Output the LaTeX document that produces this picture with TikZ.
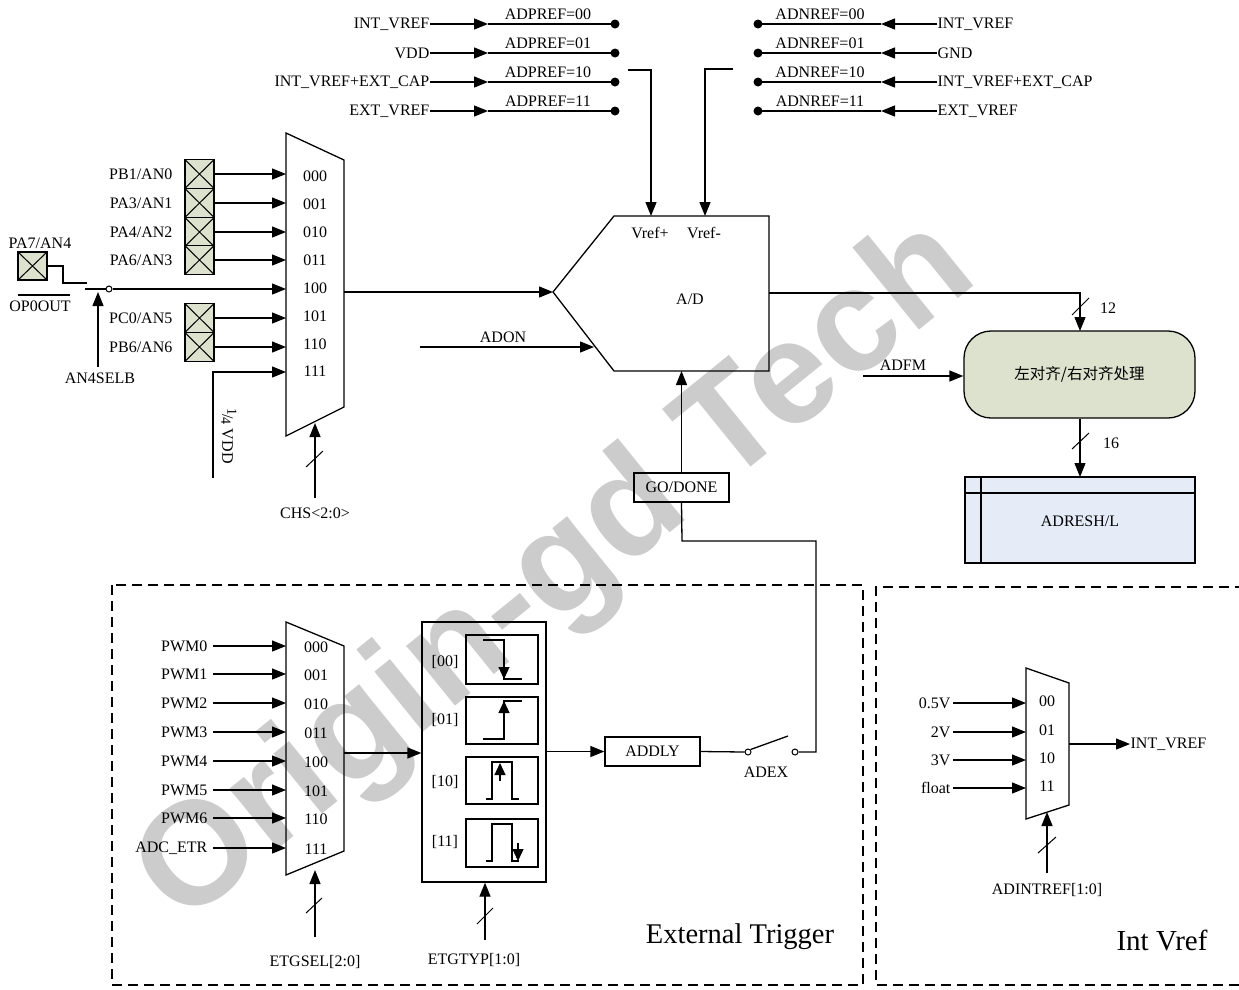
\documentclass[tikz,border=0pt]{standalone}
\usepackage{fontspec}
\setmainfont{Liberation Serif}
\newfontfamily\cjk{Noto Sans CJK SC}
\newfontfamily\wmfont{Liberation Sans}
\usetikzlibrary{arrows.meta,calc}
\definecolor{padc}{RGB}{221,226,206}
\definecolor{regc}{RGB}{229,236,247}
\definecolor{wmc}{RGB}{204,204,204}
\begin{document}
\begin{tikzpicture}[x=1pt,y=-1pt,line width=1.3pt,
  font=\fontsize{16}{19}\selectfont,
  lbl/.style={inner sep=0pt},
  arr/.style={-{Triangle[length=14pt,width=11pt]}},
  pad/.style={draw,fill=padc,minimum width=29pt,minimum height=28.6pt,inner sep=0pt,
    path picture={\draw[line width=1pt] (path picture bounding box.south west) -- (path picture bounding box.north east)
      (path picture bounding box.north west) -- (path picture bounding box.south east);}},
  dotc/.style={circle,fill,inner sep=0pt,minimum size=9pt},
  ocirc/.style={circle,draw,fill=white,inner sep=0pt,minimum size=6pt,line width=1pt},
  bus/.style={line width=1pt},
  dbox/.style={dash pattern=on 10pt off 6pt,line width=1.1pt}]
\useasboundingbox (0,0) rectangle (1239,989);
\fill[white] (0,0) rectangle (1239,989);
% watermark
\node[lbl,rotate=39,text=wmc,font=\wmfont\bfseries\fontsize{146}{146}\selectfont] (wm) at (558,575) {Origin-gd Tech};

% ---------- ADPREF (top left) ----------
\foreach \i/\y/\t/\c in {1/24/INT\_VREF/00,2/53/VDD/01,3/82/INT\_VREF+EXT\_CAP/10,4/111/EXT\_VREF/11}{
  \node[lbl,anchor=east] (pl\i) at (430,\y) {\t};
  \coordinate (pm\i) at (488,\y);
  \node[dotc] (pd\i) at (615,\y) {};
  \draw[arr] (pl\i.east) -- (pm\i);
  \draw (pm\i) -- (pd\i.center);
  \node[lbl] (pt\i) at (548,\y-10) {ADPREF=\c};
}
% ---------- ADNREF (top right) ----------
\foreach \i/\y/\t/\c in {1/24/INT\_VREF/00,2/53/GND/01,3/82/INT\_VREF+EXT\_CAP/10,4/111/EXT\_VREF/11}{
  \node[lbl,anchor=west] (nl\i) at (937,\y) {\t};
  \coordinate (nm\i) at (881,\y);
  \node[dotc] (nd\i) at (758,\y) {};
  \draw[arr] (nl\i.west) -- (nm\i);
  \draw (nm\i) -- (nd\i.center);
  \node[lbl] (nt\i) at (820,\y-10) {ADNREF=\c};
}

% ---------- A/D block ----------
\coordinate (adTL) at (614,216);
\coordinate (adTR) at (769,216);
\coordinate (adBR) at (769,371);
\coordinate (adBL) at (614,371);
\coordinate (adL) at (553,292);
\draw (adTL) -- (adTR) -- (adBR) -- (adBL) -- (adL) -- cycle;
\node[lbl] (vrp) at (650,233) {Vref+};
\node[lbl] (vrn) at (704,233) {Vref-};
\node[lbl] (ad) at (690,299) {A/D};
\coordinate (vpS) at (628,70);
\coordinate (vpT) at (651,216);
\draw[arr] (vpS) -- (651,70) -- (vpT);
\coordinate (vnS) at (733,69);
\coordinate (vnT) at (705,216);
\draw[arr] (vnS) -- (705,69) -- (vnT);

% ADON
\coordinate (adonS) at (420,347);
\coordinate (adonT) at (594,347);
\draw[arr] (adonS) -- (adonT);
\node[lbl] (adon) at (503,337) {ADON};

% ---------- main mux ----------
\draw (286,133) -- (344,160) -- (344,407) -- (286,436) -- cycle;
\coordinate (mmOut) at (344,292);
\draw[arr] (mmOut) -- (adL);
\foreach \y/\c [count=\k] in {176/000,204/001,232/010,260/011,288/100,316/101,344/110,371/111}{
  \node[lbl] (mc\k) at (315,\y) {\c};
}
\foreach \n/\y/\t in {0/174/PB1\slash AN0,1/203/PA3\slash AN1,2/232/PA4\slash AN2,3/260/PA6\slash AN3,5/318/PC0\slash AN5,6/347/PB6\slash AN6}{
  \node[pad] (pad\n) at (199.5,\y) {};
  \node[lbl,anchor=east] (pn\n) at (173,\y) {\t};
  \coordinate (mi\n) at (286,\y);
  \draw[arr] (pad\n.east) -- (mi\n);
}
% AN4 switch
\node[pad,minimum height=28pt] (pad4) at (32.5,266) {};
\node[lbl] (pn4) at (40,243) {PA7/AN4};
\node[lbl] (op0) at (40,306) {OP0OUT};
\coordinate (opA) at (18,295);
\coordinate (opB) at (70,295);
\draw (opA) -- (opB);
\draw (pad4.east) -- (63,266) -- (63,283) -- (87,283);
\node[ocirc] (swc) at (109,289) {};
\draw (85,289) -- (swc.west);
\coordinate (mi4) at (286,289);
\draw[arr] (swc.east) -- (mi4);
\node[lbl] (an4s) at (100,378) {AN4SELB};
\coordinate (an4b) at (98,367);
\coordinate (an4t) at (98,292);
\draw[arr] (an4b) -- (an4t);
% 1/4 VDD
\coordinate (qv) at (213,478);
\coordinate (mi7) at (286,372);
\draw[arr] (qv) -- (213,372) -- (mi7);
\node[lbl,rotate=-90] (qvl) at (229,436) {\raisebox{5pt}{\fontsize{14}{14}\selectfont 1}\kern-1pt/\kern-1pt\raisebox{-1pt}{\fontsize{14}{14}\selectfont 4} VDD};
% CHS
\coordinate (chsS) at (315,498);
\coordinate (chsT) at (315,423);
\draw[arr] (chsS) -- (chsT);
\draw[bus] (306,467) -- (323,451);
\node[lbl] (chs) at (315,513) {CHS<2:0>};

% ---------- alignment & result ----------
\node[draw,fill=padc,rounded corners=27pt,minimum width=231pt,minimum height=87pt,inner sep=0pt] (align) at (1079.5,374.5) {\cjk\fontsize{15.5}{18}\selectfont 左对齐/右对齐处理};
\coordinate (adOut) at (769,293);
\coordinate (alTop) at (1080,331);
\draw[arr] (adOut) -- (1080,293) -- (alTop);
\draw[bus] (1072,315) -- (1089,298);
\node[lbl] (n12) at (1108,308) {12};
\coordinate (adfmS) at (863,376);
\draw[arr] (adfmS) -- (align.west |- adfmS);
\node[lbl] (adfm) at (903,365) {ADFM};

\fill[regc] (965,477) rectangle (1195,563);
\draw (965,477) rectangle (1195,563);
\draw (965,493) -- (1195,493);
\draw (981,477) -- (981,563);
\coordinate (regTop) at (1080,477);
\node[lbl] (reg) at (1080,521) {ADRESH/L};
\draw[arr] (align.south -| regTop) -- (regTop);
\draw[bus] (1072,449) -- (1089,433);
\node[lbl] (n16) at (1111,443) {16};

% GO/DONE
\node[draw,minimum width=95pt,minimum height=29pt,inner sep=0pt] (go) at (681.5,487.5) {GO/DONE};
\draw[arr] (go.north) -- (go.north |- adBL);

% ---------- External trigger ----------
\draw[dbox] (112,585) rectangle (863,985);
\draw (286,622) -- (344,646) -- (344,851) -- (286,875) -- cycle;
\foreach \y/\t/\c [count=\k] in {646/PWM0/000,674/PWM1/001,703/PWM2/010,732/PWM3/011,761/PWM4/100,790/PWM5/101,818/PWM6/110,848/ADC\_ETR/111}{
  \node[lbl,anchor=east] (pw\k) at (208,\y) {\t};
  \coordinate (ei\k) at (286,\y);
  \draw[arr] (213,\y) -- (ei\k);
  \node[lbl] (ec\k) at (316,\y+1) {\c};
}
\coordinate (etOut) at (344,753);
\node[draw,minimum width=124pt,minimum height=260pt,inner sep=0pt] (edge) at (484,752) {};
\draw[arr] (etOut) -- (edge.west |- etOut);
\coordinate (egS) at (315,937);
\coordinate (egT) at (315,870);
\draw[arr] (egS) -- (egT);
\draw[bus] (306,913) -- (322,898);
\node[lbl] (etgsel) at (315,962) {ETGSEL[2:0]};
\coordinate (etS) at (485,940);
\draw[arr] (etS) -- (edge.south -| etS);
\draw[bus] (477,924) -- (493,908);
\node[lbl] (etgtyp) at (474,960) {ETGTYP[1:0]};
% edge sub-boxes
\draw (466,635) rectangle (538,684);
\draw (466,697) rectangle (538,744);
\draw (466,757) rectangle (538,804);
\draw (466,819) rectangle (538,867);
\node[lbl] (e00) at (445,662) {[00]};
\node[lbl] (e01) at (445,720) {[01]};
\node[lbl] (e10) at (445,782) {[10]};
\node[lbl] (e11) at (445,842) {[11]};
\begin{scope}[line width=1.1pt]
\draw (483,640) -- (504,640) -- (504,679) -- (522,679);
\draw[-{Triangle[length=12pt,width=11pt]}] (504,660) -- (504,679);
\draw (483,739) -- (504,739) -- (504,701) -- (522,701);
\draw[-{Triangle[length=12pt,width=11pt]}] (504,720) -- (504,701);
\draw (486,799) -- (492,799) -- (492,762) -- (512,762) -- (512,799) -- (519,799);
\draw[-{Triangle[length=12pt,width=11pt]}] (500,781) -- (500,763);
\draw (486,861) -- (492,861) -- (492,824) -- (512,824) -- (512,861) -- (519,861);
\draw[-{Triangle[length=12pt,width=11pt]}] (518,843) -- (518,861);
\end{scope}
\node[draw,minimum width=95pt,minimum height=29pt,inner sep=0pt] (addly) at (652.5,751.5) {ADDLY};
\draw[arr] (edge.east |- addly) -- (addly.west);
\node[ocirc] (sw1) at (748,752) {};
\node[ocirc] (sw2) at (795,752) {};
\draw (addly.east) -- (sw1.west);
\draw (sw1.north east) -- (788,736);
\draw (sw2.east) -- (816,752) -- (816,541) -- (682,541) -- (go.south);
\node[lbl] (adex) at (766,772) {ADEX};
\node[lbl,font=\fontsize{28.5}{32}\selectfont] (ext) at (740,937) {External Trigger};

% ---------- Int Vref ----------
\draw[dbox] (1245,587) -- (876,587) -- (876,985) -- (1245,985);
\draw (1026,668) -- (1069,683) -- (1069,805) -- (1026,819) -- cycle;
\foreach \y/\t/\c [count=\k] in {703/0.5V/00,732/2V/01,760/3V/10,788/float/11}{
  \node[lbl,anchor=east] (iv\k) at (951,\y) {\t};
  \coordinate (ii\k) at (1026,\y);
  \draw[arr] (953,\y) -- (ii\k);
  \node[lbl] (ic\k) at (1047,\y-2) {\c};
}
\coordinate (ivOut) at (1069,744);
\node[lbl,anchor=west] (intv) at (1130,744) {INT\_VREF};
\draw[arr] (ivOut) -- (intv.west);
\coordinate (aiS) at (1047,873);
\coordinate (aiT) at (1047,812);
\draw[arr] (aiS) -- (aiT);
\draw[bus] (1038,853) -- (1056,837);
\node[lbl] (adint) at (1047,890) {ADINTREF[1:0]};
\node[lbl,font=\fontsize{29}{32}\selectfont] (intvref) at (1162,940) {Int Vref};
\end{tikzpicture}
\end{document}
